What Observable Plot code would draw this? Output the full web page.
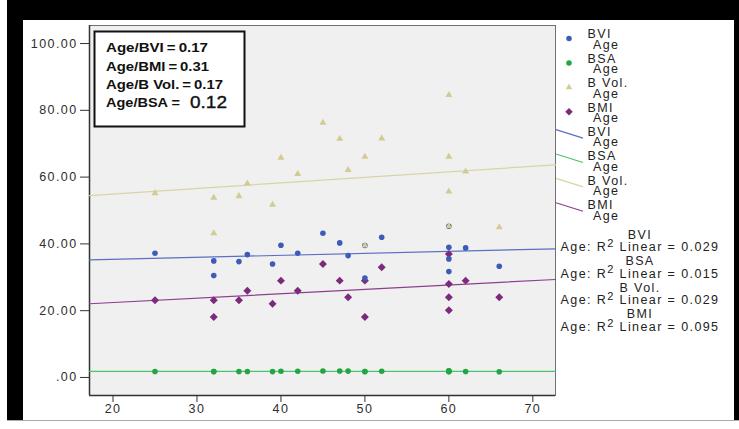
<!DOCTYPE html>
<html><head><meta charset="utf-8">
<script src="https://cdn.jsdelivr.net/npm/d3@7"></script>
<script src="https://cdn.jsdelivr.net/npm/@observablehq/plot@0.6"></script>
<style>
body{margin:0;background:#fff;}
#wrap{position:relative;width:739px;height:429px;overflow:hidden;}
#black{position:absolute;left:7px;top:0;width:732px;height:420px;background:#000;}
#panel{position:absolute;left:23px;top:20px;width:711px;height:400px;background:#fff;}
#bline{position:absolute;left:7px;top:420px;width:732px;height:1px;background:#aaa;}
#chart,#over{position:absolute;left:0;top:0;}
</style></head>
<body>
<div id="wrap"><div id="black"></div><div id="panel"></div><div id="bline"></div><div id="chart"></div><svg id="over" width="739" height="429"></svg></div>
<script>
// ---- data ----
const ages = [25,32,32,35,36,39,40,42,45,47,48,50,50,52,60,60,60,60,62,66];
const bvi  = [37.2,34.9,30.5,34.7,36.8,34.0,39.6,37.2,43.2,40.3,36.5,39.5,29.8,42.0,45.3,39.0,35.5,31.7,38.8,33.3];
const bvol = [55.2,53.8,43.2,54.3,58.1,51.7,65.8,60.9,76.3,71.5,62.1,66.1,39.5,71.6,84.6,66.1,55.7,45.3,61.7,45.0];
const bmi  = [23.1,23.1,18.1,23.1,26.0,22.1,29.0,26.0,34.0,29.0,24.0,29.0,18.1,33.0,37.0,28.0,24.0,20.1,29.0,24.0];
const bsa  = [1.8,1.8,1.75,1.8,1.8,1.75,1.85,1.85,1.95,1.95,1.9,1.75,1.8,1.85,2.0,1.9,1.8,1.75,1.8,1.7];
const xTicks = [20,30,40,50,60,70];
const yTicks = [0,20,40,60,80,100];
const xDomain = [17.2, 72.7];
const yDomain = [-5.4, 105.4];
const seriesNames = ["BVI","BSA","B Vol.","BMI"];
const r2Values = ["0.029","0.015","0.029","0.095"];
const corrLabels = ["Age/BVI\u2009=\u20090.17","Age/BMI\u2009=\u20090.31","Age/B Vol.\u2009=\u20090.17"];
const corrBsaLabel = "Age/BSA =";
const corrBsaValue = "0.12";

const colors = {BVI:"#3d5bb8", BSA:"#22a544", "B Vol.":"#d2cc94", BMI:"#7b2a7c"};
const lineColors = {BVI:"#5a6fc4", BSA:"#4cc46c", "B Vol.":"#d9d4a6", BMI:"#8d3f8e"};

const rows = ages.map((a,i)=>({age:a, bvi:bvi[i], bvol:bvol[i], bmi:bmi[i], bsa:bsa[i]}));

function fit(ys){
  const mx = d3.mean(ages), my = d3.mean(ys);
  let sxy=0, sxx=0;
  ages.forEach((x,i)=>{sxy+=(x-mx)*(ys[i]-my); sxx+=(x-mx)*(x-mx);});
  const b = sxy/sxx, a = my-b*mx;
  return xDomain.map(x=>({x, y:a+b*x}));
}

const fmt = d => d===0 ? ".00" : d.toFixed(2);
const FONT = "'Liberation Sans', Arial, sans-serif";

const chart = Plot.plot({
  width:739, height:429, marginLeft:89, marginRight:184, marginTop:25, marginBottom:34,
  style:{background:"transparent", fontFamily:FONT, fontSize:"12.5px", color:"#2e2e2e", letterSpacing:"1.4px"},
  x:{domain:xDomain},
  y:{domain:yDomain},
  marks:[
    Plot.frame({fill:"#f0f0f0", stroke:"#707070"}),
    Plot.axisY(yTicks,{tickSize:9, tickPadding:3, tickFormat:fmt, stroke:"#333", label:null}),
    Plot.axisX(xTicks,{tickSize:7, tickPadding:2, stroke:"#333", label:null}),
    Plot.ruleX([xDomain[0]],{stroke:"#333", strokeWidth:1.5}),
    Plot.ruleY([yDomain[0]],{stroke:"#333", strokeWidth:1.5}),
    Plot.line(fit(bvol),{x:"x", y:"y", stroke:lineColors["B Vol."], strokeWidth:1.2}),
    Plot.line(fit(bvi),{x:"x", y:"y", stroke:lineColors.BVI, strokeWidth:1.2}),
    Plot.line(fit(bmi),{x:"x", y:"y", stroke:lineColors.BMI, strokeWidth:1.2}),
    Plot.line(fit(bsa),{x:"x", y:"y", stroke:lineColors.BSA, strokeWidth:1.2}),
    Plot.dot(rows,{x:"age", y:"bsa", r:2.8, fill:colors.BSA}),
    Plot.dot(rows,{x:"age", y:"bmi", symbol:"diamond2", r:3.6, fill:colors.BMI}),
    Plot.dot(rows,{x:"age", y:"bvi", r:2.8, fill:colors.BVI}),
    Plot.dot(rows,{x:"age", y:"bvol", symbol:"triangle", r:2.6, fill:colors["B Vol."]})
  ]
});
document.getElementById("chart").append(chart);

// ---- overlay: correlation box and legends ----
const svg = d3.select("#over");
const box = svg.append("g").attr("font-family",FONT).attr("fill","#111");
box.append("rect").attr("x",94.5).attr("y",31.5).attr("width",150).attr("height",95)
  .attr("fill","#fff").attr("stroke","#111").attr("stroke-width",2);
const corrY = [51.7,70.7,88.5];
const corrW = [102,103,117];
corrLabels.forEach((t,i)=>box.append("text").attr("x",106).attr("y",corrY[i]).text(t)
  .attr("font-weight","bold").attr("font-size",13)
  .attr("textLength",corrW[i]).attr("lengthAdjust","spacingAndGlyphs"));
box.append("text").attr("x",106).attr("y",107.3).text(corrBsaLabel)
  .attr("font-weight","bold").attr("font-size",13)
  .attr("textLength",74).attr("lengthAdjust","spacingAndGlyphs");
box.append("text").attr("x",190).attr("y",108).text(corrBsaValue)
  .attr("font-size",16.5).attr("stroke","#111").attr("stroke-width",0.35)
  .attr("textLength",37).attr("lengthAdjust","spacingAndGlyphs");

const lg = svg.append("g").attr("font-family",FONT).attr("font-size",12.5)
  .attr("letter-spacing","1.4px").attr("fill","#222");
const pitch = 24.4, top0 = 34;
const sym = {BVI:d3.symbolCircle, BSA:d3.symbolCircle, "B Vol.":d3.symbolTriangle, BMI:d3.symbolDiamond2};
const symSize = {BVI:24, BSA:24, "B Vol.":18, BMI:36};
function twoLine(x, y, name){
  const t = lg.append("text").attr("y",y+4.3);
  t.append("tspan").attr("x",x).text(name);
  t.append("tspan").attr("x",x+5.5).attr("dy",10.5).text("Age");
}
seriesNames.forEach((name,i)=>{
  const c = top0 + pitch*i;
  twoLine(587.5, c, name);
  lg.append("path").attr("d",d3.symbol(sym[name], symSize[name])())
    .attr("transform",`translate(569,${c+4.5})`).attr("fill",colors[name]);
  const c2 = top0 + pitch*(i+4);
  twoLine(587.5, c2, name);
  lg.append("line").attr("x1",556).attr("y1",c2-2).attr("x2",583).attr("y2",c2+6.5)
    .attr("stroke",lineColors[name]).attr("stroke-width",1.2);
});
const rg = lg.append("g").attr("text-anchor","middle");
seriesNames.forEach((name,i)=>{
  const y0 = 234.3 + i*26.6;
  const t = rg.append("text").attr("y",y0+4.3);
  t.append("tspan").attr("x",640).text(name);
  t.append("tspan").attr("x",640).attr("dy",12.6).text("Age: R");
  t.append("tspan").attr("dy",-4.5).attr("font-size",11).text("2");
  t.append("tspan").attr("dy",4.5).text(" Linear = " + r2Values[i]);
});
</script>
</body></html>
